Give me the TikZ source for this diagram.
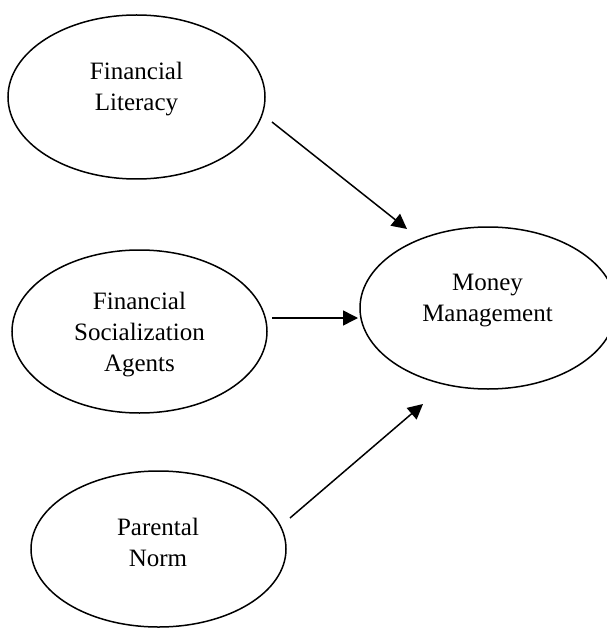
\documentclass[tikz,border=0pt]{standalone}
\usepackage{fontspec}
\setmainfont{Liberation Serif}
\usetikzlibrary{shapes.geometric,arrows.meta}
\begin{document}
\begin{tikzpicture}[x=1pt,y=-1pt,
  oval/.style={ellipse,draw,line width=1.5pt,inner sep=0pt},
  lbl/.style={align=center,font=\fontsize{25}{31}\selectfont,inner sep=0pt},
  arr/.style={line width=1.5pt,-{Triangle[length=15pt,width=15pt]}}]
\useasboundingbox (0,0) rectangle (606,628);
\node[oval,minimum width=257pt,minimum height=164pt] (fl) at (136.5,97) {};
\node[oval,minimum width=255pt,minimum height=163pt] (fs) at (139.5,331.5) {};
\node[oval,minimum width=255pt,minimum height=156pt] (pn) at (158.5,549) {};
\node[oval,minimum width=256pt,minimum height=162pt] (mm) at (488,308) {};
\node[lbl] (tfl) at (136.5,89) {Financial\\Literacy};
\node[lbl] (tfs) at (139.5,335) {Financial\\Socialization\\Agents};
\node[lbl] (tpn) at (158,542) {Parental\\Norm};
\node[lbl] (tmm) at (487.5,301) {Money\\Management};
\coordinate (a1s) at (272,122);
\coordinate (a1e) at (407,229);
\coordinate (a2s) at (272,318);
\coordinate (a2e) at (358,318);
\coordinate (a3s) at (290,518);
\coordinate (a3e) at (423,404);
\draw[arr] (a1s) -- (a1e);
\draw[arr] (a2s) -- (a2e);
\draw[arr] (a3s) -- (a3e);
\end{tikzpicture}
\end{document}
